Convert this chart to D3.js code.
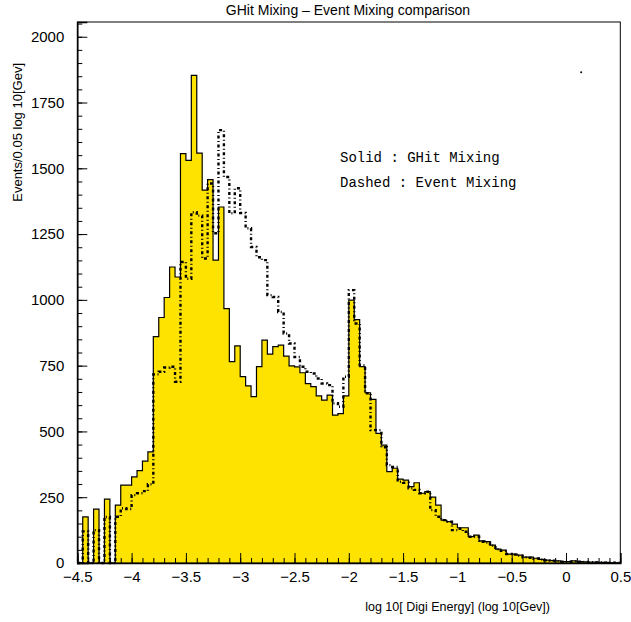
<!DOCTYPE html>
<html>
<head>
<meta charset="utf-8">
<script src="https://cdn.jsdelivr.net/npm/d3@7"></script>
<style>
  body { margin: 0; background: #fff; }
  svg { display: block; }
</style>
</head>
<body>
<svg id="chart"></svg>
<script>
// histogram binning: 100 bins of 0.05 from -4.5 to 0.5
const binStart = -4.5;
const binWidth = 0.05;

// Solid : GHit Mixing
const ghitCounts = [
  0, 175, 0, 205, 0, 243, 0, 220, 296, 296,
  327, 351, 387, 422, 860, 933, 1009, 1125, 1087, 1556,
  1530, 1853, 1558, 1417, 1457, 1151, 1353, 967, 765, 825,
  708, 673, 632, 746, 847, 794, 822, 828, 786, 749,
  745, 723, 682, 670, 635, 619, 638, 562, 568, 635,
  999, 925, 746, 647, 622, 493, 448, 347, 360, 319,
  315, 290, 305, 265, 271, 250, 220, 163, 157, 148,
  134, 134, 100, 106, 84, 81, 68, 53, 49, 34,
  34, 30, 22, 22, 18, 14, 11, 9, 8, 5,
  5, 8, 5, 4, 3, 3, 2, 2, 1, 1
];

// Dashed : Event Mixing
const eventCounts = [
  0, 120, 0, 125, 0, 175, 0, 176, 208, 205,
  258, 265, 273, 299, 717, 727, 743, 746, 689, 1144,
  1080, 1333, 1320, 1157, 1442, 1253, 1645, 1467, 1329, 1424,
  1330, 1272, 1201, 1162, 1151, 1018, 1011, 954, 872, 834,
  783, 746, 727, 720, 701, 682, 676, 607, 594, 708,
  1037, 910, 752, 645, 505, 505, 440, 372, 365, 309,
  305, 284, 278, 265, 271, 201, 176, 163, 157, 125,
  130, 119, 100, 100, 81, 78, 66, 52, 46, 34,
  32, 28, 22, 20, 17, 13, 10, 9, 7, 5,
  5, 6, 5, 4, 3, 2, 2, 1, 1, 1
];

const xMajorTicks = [-4.5, -4, -3.5, -3, -2.5, -2, -1.5, -1, -0.5, 0, 0.5];
const yMajorTicks = [0, 250, 500, 750, 1000, 1250, 1500, 1750, 2000];
const strayPoint = [0.14, 1865];

const width = 631, height = 622;
const svg = d3.select("#chart").attr("width", width).attr("height", height);

const x = d3.scaleLinear().domain([-4.5, 0.5]).range([77.3, 620.3]);
const y = d3.scaleLinear().domain([0, 2056]).range([563, 22]);

// step points: one per bin edge, last one drops back to zero
function stepPoints(counts) {
  const pts = counts.map((c, i) => ({ x: binStart + i * binWidth, v: c }));
  pts.push({ x: binStart + counts.length * binWidth, v: 0 });
  return pts;
}

// filled solid histogram
const area = d3.area()
  .x(d => x(d.x))
  .y0(y(0))
  .y1(d => y(d.v))
  .curve(d3.curveStepAfter);

svg.append("path")
  .datum(stepPoints(ghitCounts))
  .attr("d", area)
  .attr("fill", "#ffe300")
  .attr("stroke", "none");

const line = d3.line()
  .x(d => x(d.x))
  .y(d => y(d.v))
  .curve(d3.curveStepAfter);

const solidPts = [{ x: binStart, v: 0 }].concat(stepPoints(ghitCounts));
svg.append("path")
  .datum(solidPts)
  .attr("d", line)
  .attr("fill", "none")
  .attr("stroke", "#000")
  .attr("stroke-width", 1.2);

// dashed event mixing histogram
const dashPts = [{ x: binStart, v: 0 }].concat(stepPoints(eventCounts));
svg.append("path")
  .datum(dashPts)
  .attr("d", line)
  .attr("fill", "none")
  .attr("stroke", "#000")
  .attr("stroke-width", 2.4)
  .attr("stroke-dasharray", "3,2.5,1,2.5");

// frame
svg.append("rect")
  .attr("x", x(-4.5)).attr("y", y(2056))
  .attr("width", x(0.5) - x(-4.5)).attr("height", y(0) - y(2056))
  .attr("fill", "none").attr("stroke", "#000").attr("stroke-width", 1);

// x axis, ticks pointing inward
const xMinor = d3.range(-4.5, 0.5001, 0.1).map(v => +v.toFixed(2));
svg.append("g")
  .attr("transform", `translate(0,${y(0)})`)
  .call(d3.axisBottom(x).tickValues(xMinor).tickSize(-5).tickFormat(""))
  .call(g => g.select(".domain").remove());

svg.append("g")
  .attr("transform", `translate(0,${y(0)})`)
  .call(d3.axisBottom(x).tickValues(xMajorTicks).tickSize(-10).tickPadding(8)
    .tickFormat(d => d3.format("")(d)))
  .call(g => g.select(".domain").attr("stroke-width", 1.5))
  .call(g => g.selectAll("text")
    .attr("font-family", "Liberation Sans, Arial, sans-serif")
    .attr("font-size", 15)
    .attr("fill", "#000"));

// y axis
const yMinor = d3.range(0, 2051, 50);
svg.append("g")
  .attr("transform", `translate(${x(-4.5)},0)`)
  .call(d3.axisLeft(y).tickValues(yMinor).tickSize(-5).tickFormat(""))
  .call(g => g.select(".domain").remove());

svg.append("g")
  .attr("transform", `translate(${x(-4.5)},0)`)
  .call(d3.axisLeft(y).tickValues(yMajorTicks).tickSize(-10).tickPadding(13)
    .tickFormat(d3.format("d")))
  .call(g => g.select(".domain").attr("stroke-width", 1.5))
  .call(g => g.selectAll("text")
    .attr("font-family", "Liberation Sans, Arial, sans-serif")
    .attr("font-size", 15)
    .attr("fill", "#000"));

// title and axis titles
svg.append("text")
  .attr("x", 348).attr("y", 15)
  .attr("text-anchor", "middle")
  .attr("font-family", "Liberation Sans, Arial, sans-serif")
  .attr("font-size", 14)
  .text("GHit Mixing \u2013 Event Mixing comparison");

svg.append("text")
  .attr("x", 550).attr("y", 611)
  .attr("text-anchor", "end")
  .attr("font-family", "Liberation Sans, Arial, sans-serif")
  .attr("font-size", 12.5)
  .text("log 10[ Digi Energy]  (log 10[Gev])");

svg.append("text")
  .attr("transform", "translate(22,63) rotate(-90)")
  .attr("text-anchor", "end")
  .attr("font-family", "Liberation Sans, Arial, sans-serif")
  .attr("font-size", 13)
  .text("Events/0.05 log 10[Gev]");

// legend text
const legendLines = ["Solid : GHit Mixing", "Dashed : Event Mixing"];
svg.selectAll(".legend")
  .data(legendLines)
  .enter()
  .append("text")
  .attr("class", "legend")
  .attr("x", 340)
  .attr("y", (d, i) => 162 + i * 25)
  .attr("font-family", "Liberation Mono, Courier New, monospace")
  .attr("font-size", 14)
  .attr("xml:space", "preserve")
  .text(d => d);

// stray marker in the corner
svg.append("circle")
  .attr("cx", x(strayPoint[0])).attr("cy", y(strayPoint[1]))
  .attr("r", 1).attr("fill", "#000");
</script>
</body>
</html>
